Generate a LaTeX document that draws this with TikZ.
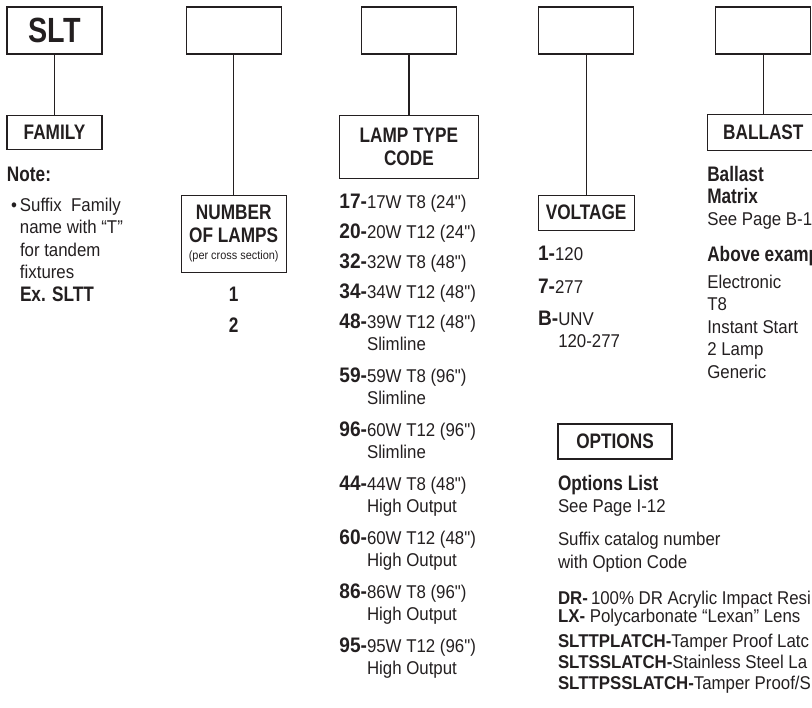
\documentclass[tikz,border=0pt]{standalone}
\usepackage{fontspec}
\setmainfont{Liberation Sans}[FakeStretch=0.91, Ligatures=TeXOff]
\newfontfamily\headfont{Liberation Sans}[FakeStretch=0.82]
\usepackage{xcolor}
\usetikzlibrary{positioning}
\definecolor{ink}{RGB}{35,31,32}
\newcommand{\code}[1]{{\fontsize{21bp}{22.5bp}\selectfont\bfseries #1}}
\newcommand{\headbf}[1]{{\headfont\bfseries\fontsize{21bp}{22.5bp}\selectfont #1}}

\begin{document}
\begin{tikzpicture}[
  x=1bp, y=-1bp,
  line width=1.2bp, color=ink,
  topbox/.style={rectangle, draw, minimum width=95bp, minimum height=47bp, inner sep=0pt},
  labelbox/.style={rectangle, draw, align=center, inner sep=0pt,
                   font=\headfont\bfseries\fontsize{21bp}{23bp}\selectfont},
  headtext/.style={inner sep=0pt, align=left,
                   font=\headfont\bfseries\fontsize{21bp}{22bp}\selectfont},
  itemtext/.style={inner sep=0pt, align=left,
                   font=\fontsize{18.5bp}{22.5bp}\selectfont}
]
  \useasboundingbox (0,0) rectangle (812,708);
  \clip (0,0) rectangle (812,708);

  % 顶部方框
  \node[topbox] (sltbox) at (54.5,30.5) {\headfont\bfseries\fontsize{35bp}{35bp}\selectfont SLT};
  \node[topbox, right=83bp of sltbox] (numbox) {};
  \node[topbox, right=79bp of numbox] (lampbox) {};
  \node[topbox, right=81bp of lampbox] (voltbox) {};
  \node[topbox, right=81bp of voltbox] (ballastbox) {};

  % 标签方框
  \node[labelbox, minimum width=95bp, minimum height=34bp, below=60bp of sltbox] (family) {FAMILY};
  \node[labelbox, minimum width=105bp, minimum height=77bp, below=140bp of numbox] (lamps)
    {NUMBER\\OF LAMPS\\[-6bp]{\normalfont\fontsize{12bp}{12bp}\selectfont (per cross section)}};
  \node[labelbox, minimum width=139bp, minimum height=63bp, below=60bp of lampbox] (lamptype) {LAMP TYPE\\CODE};
  \node[labelbox, minimum width=96bp, minimum height=35bp, below=140bp of voltbox] (voltage) {VOLTAGE};
  \node[labelbox, minimum width=112bp, minimum height=35.5bp, below=59.5bp of ballastbox] (ballast) {BALLAST};
  \node[labelbox, minimum width=114bp, minimum height=35bp] (options) at (615,441.5) {OPTIONS};

  % 连线
  \draw (sltbox) -- (family);
  \draw (numbox) -- (lamps);
  \draw (lampbox) -- (lamptype);
  \draw (voltbox) -- (voltage);
  \draw (ballastbox) -- (ballast);

  % 系列 (多行节点的 base 在最后一行)
  \node[headtext, below=31.5bp of family.south west, anchor=base west] (note) {Note:};
  \node[itemtext, below=120.1bp of note.base west, xshift=13bp, anchor=base west] (notetext)
    {\llap{\textbullet\hspace{3bp}}Suffix\ \ Family\\name with “T”\\for tandem\\fixtures\\\headbf{Ex. SLTT}};

  % 灯数
  \node[headtext, below=28.5bp of lamps.south, anchor=base] (one) {1};
  \node[headtext, below=31bp of one.base, anchor=base] (two) {2};

  % 灯型代码
  \node[itemtext, below=29.6bp of lamptype.south west, anchor=base west] (l17) {\code{17-}17W T8 (24")};
  \node[itemtext, below=30bp of l17.base west, anchor=base west] (l20) {\code{20-}20W T12 (24")};
  \node[itemtext, below=30bp of l20.base west, anchor=base west] (l32) {\code{32-}32W T8 (48")};
  \node[itemtext, below=30bp of l32.base west, anchor=base west] (l34) {\code{34-}34W T12 (48")};
  \node[itemtext, below=52.5bp of l34.base west, anchor=base west] (l48) {\code{48-}39W T12 (48")\\\phantom{\code{48-}}Slimline};
  \node[itemtext, below=54bp of l48.base west, anchor=base west] (l59) {\code{59-}59W T8 (96")\\\phantom{\code{59-}}Slimline};
  \node[itemtext, below=54bp of l59.base west, anchor=base west] (l96) {\code{96-}60W T12 (96")\\\phantom{\code{96-}}Slimline};
  \node[itemtext, below=54bp of l96.base west, anchor=base west] (l44) {\code{44-}44W T8 (48")\\\phantom{\code{44-}}High Output};
  \node[itemtext, below=54bp of l44.base west, anchor=base west] (l60) {\code{60-}60W T12 (48")\\\phantom{\code{60-}}High Output};
  \node[itemtext, below=54bp of l60.base west, anchor=base west] (l86) {\code{86-}86W T8 (96")\\\phantom{\code{86-}}High Output};
  \node[itemtext, below=54bp of l86.base west, anchor=base west] (l95) {\code{95-}95W T12 (96")\\\phantom{\code{95-}}High Output};

  % 电压
  \node[itemtext, below=29.6bp of voltage.south west, anchor=base west] (v1) {\code{1-}120};
  \node[itemtext, below=33bp of v1.base west, anchor=base west] (v7) {\code{7-}277};
  \node[itemtext, below=54.5bp of v7.base west, anchor=base west] (vb) {\code{B-}UNV\\\phantom{\code{B-}}120-277};

  % 镇流器
  \node[headtext, below=52.25bp of ballast.south west, anchor=base west] (balhead) {Ballast\\Matrix};
  \node[itemtext, below=22.5bp of balhead.base west, anchor=base west] (balsee) {See Page B-1};
  \node[headtext, below=36bp of balsee.base west, anchor=base west] (balex) {Above examp};
  \node[itemtext, below=116.6bp of balex.base west, anchor=base west] (balspec)
    {Electronic\\T8\\Instant Start\\2 Lamp\\Generic};

  % 选项
  \node[headtext, below=30.5bp of options.south west, anchor=base west] (optlist) {Options List};
  \node[itemtext, below=22bp of optlist.base west, anchor=base west] (optsee) {See Page I-12};
  \node[itemtext, below=56bp of optsee.base west, anchor=base west] (optcode) {Suffix catalog number\\with Option Code};
  \node[itemtext, below=54bp of optcode.base west, anchor=base west, font=\fontsize{18.5bp}{18bp}\selectfont] (optlens)
    {\textbf{DR-}\,100\% DR Acrylic Impact Resi\\\textbf{LX-} Polycarbonate “Lexan” Lens};
  \node[itemtext, below=67bp of optlens.base west, anchor=base west, font=\fontsize{18.5bp}{21bp}\selectfont] (optlatch)
    {\textbf{SLTTPLATCH-}Tamper Proof Latc\\\textbf{SLTSSLATCH-}Stainless Steel La\\\textbf{SLTTPSSLATCH-}Tamper Proof/S};

\end{tikzpicture}
\end{document}
